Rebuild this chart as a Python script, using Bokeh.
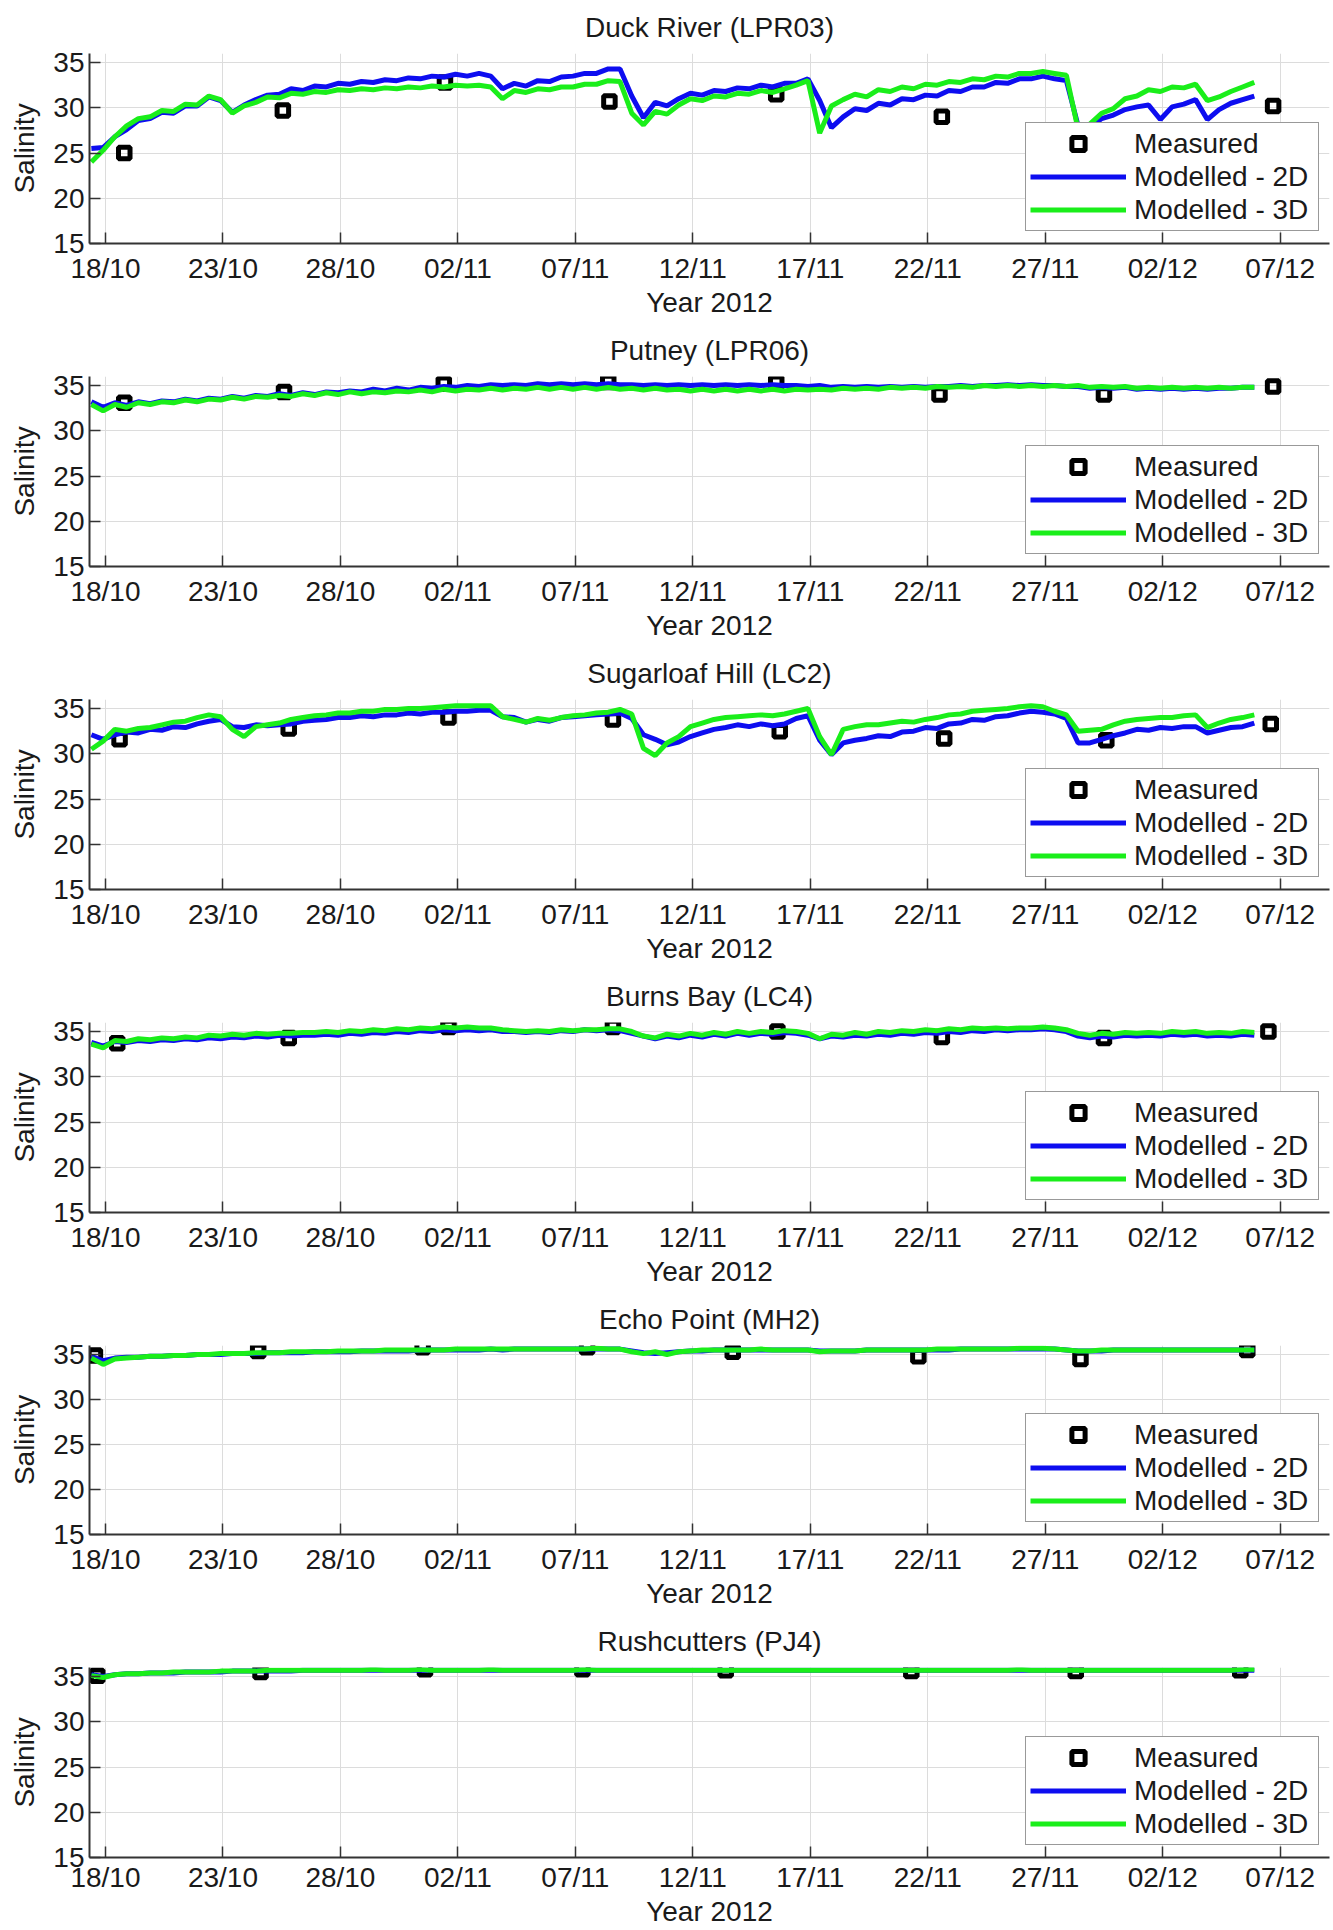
import numpy as np
from bokeh.plotting import figure
from bokeh.models import Range1d, FixedTicker, Legend, LegendItem
from bokeh.layouts import column
from bokeh.embed import file_html
from bokeh.resources import INLINE

# ---------------- data ----------------
# model output times: days after 18/10/2012 00:00, every 12 h
model_days = -0.6 + 0.5 * np.arange(100)

tick_days = [0, 5, 10, 15, 20, 25, 30, 35, 40, 45, 50]
tick_labels = ["18/10", "23/10", "28/10", "02/11", "07/11", "12/11",
               "17/11", "22/11", "27/11", "02/12", "07/12"]
y_ticks = [15, 20, 25, 30, 35]

titles = ["Duck River (LPR03)", "Putney (LPR06)", "Sugarloaf Hill (LC2)",
          "Burns Bay (LC4)", "Echo Point (MH2)", "Rushcutters (PJ4)"]
legend_labels = ["Measured", "Modelled - 2D", "Modelled - 3D"]

# Duck River (LPR03)
duck_meas_day = [0.8, 7.55, 14.45, 21.45, 28.55, 35.6, 49.7]
duck_meas = [25.0, 29.7, 32.8, 30.7, 31.5, 29.0, 30.2]
duck_2d = [25.5, 25.6, 26.8, 27.6, 28.6, 28.8, 29.5, 29.4, 30.2, 30.2,
           31.2, 30.8, 29.5, 30.3, 30.9, 31.4, 31.5, 32.1, 31.9, 32.4,
           32.3, 32.7, 32.6, 32.9, 32.8, 33.1, 33.0, 33.3, 33.2, 33.5,
           33.4, 33.7, 33.5, 33.8, 33.5, 32.1, 32.7, 32.4, 33.0, 32.9,
           33.4, 33.5, 33.8, 33.8, 34.3, 34.3, 31.3, 28.9, 30.6, 30.2,
           31.0, 31.6, 31.4, 31.9, 31.8, 32.2, 32.1, 32.5, 32.3, 32.7,
           32.7, 33.2, 30.8, 27.8, 29.0, 29.9, 29.7, 30.5, 30.3, 31.0,
           30.9, 31.4, 31.3, 31.9, 31.8, 32.3, 32.3, 32.8, 32.7, 33.2,
           33.2, 33.5, 33.2, 33.0, 28.0, 27.8, 28.8, 29.2, 29.8, 30.1,
           30.3, 28.7, 30.1, 30.4, 30.9, 28.7, 29.8, 30.5, 30.9, 31.3]
duck_3d = [24.0, 25.3, 26.8, 28.0, 28.8, 29.0, 29.7, 29.6, 30.4, 30.3,
           31.3, 30.9, 29.4, 30.2, 30.6, 31.2, 31.1, 31.6, 31.5, 31.8,
           31.7, 32.0, 31.9, 32.1, 32.0, 32.2, 32.1, 32.3, 32.2, 32.4,
           32.3, 32.5, 32.4, 32.5, 32.3, 31.0, 31.9, 31.7, 32.1, 32.0,
           32.3, 32.3, 32.6, 32.6, 33.0, 32.9, 29.4, 28.1, 29.6, 29.3,
           30.3, 31.0, 30.8, 31.3, 31.2, 31.6, 31.5, 31.9, 31.7, 32.1,
           32.5, 33.0, 27.2, 30.2, 30.9, 31.5, 31.2, 32.0, 31.8, 32.3,
           32.1, 32.6, 32.5, 32.9, 32.8, 33.2, 33.1, 33.5, 33.4, 33.8,
           33.8, 34.0, 33.8, 33.6, 27.6, 28.2, 29.4, 29.9, 31.0, 31.3,
           32.0, 31.8, 32.3, 32.2, 32.6, 30.8, 31.2, 31.8, 32.3, 32.8]

# Putney (LPR06)
putney_meas_day = [0.8, 7.6, 14.4, 21.4, 28.55, 35.5, 42.5, 49.7]
putney_meas = [33.1, 34.3, 35.2, 35.4, 35.3, 34.0, 34.0, 34.9]
putney_2d = [33.2, 32.6, 33.1, 32.8, 33.2, 33.0, 33.3, 33.2, 33.5, 33.3,
             33.6, 33.5, 33.8, 33.6, 33.9, 33.8, 34.1, 33.9, 34.2, 34.0,
             34.3, 34.2, 34.4, 34.3, 34.6, 34.4, 34.7, 34.5, 34.8, 34.7,
             34.9, 34.8, 35.0, 34.9, 35.1, 35.0, 35.1, 35.0, 35.2, 35.1,
             35.2, 35.1, 35.2, 35.1, 35.2, 35.1, 35.1, 35.0, 35.1, 35.0,
             35.1, 35.0, 35.1, 35.0, 35.1, 35.0, 35.1, 35.0, 35.1, 35.0,
             35.0, 34.9, 35.0, 34.8, 34.9, 34.8, 34.9, 34.8, 34.9, 34.8,
             34.9, 34.8, 34.9, 34.9, 35.0, 34.9, 35.0, 35.0, 35.1, 35.0,
             35.1, 35.0, 35.0, 34.9, 34.9, 34.7, 34.8, 34.7, 34.8, 34.6,
             34.7, 34.6, 34.7, 34.6, 34.7, 34.6, 34.7, 34.7, 34.8, 34.8]
putney_3d = [32.9, 32.2, 32.9, 32.6, 33.1, 32.9, 33.2, 33.1, 33.4, 33.2,
             33.5, 33.4, 33.7, 33.5, 33.8, 33.7, 33.9, 33.8, 34.1, 33.9,
             34.2, 34.0, 34.3, 34.1, 34.3, 34.2, 34.4, 34.3, 34.5, 34.3,
             34.6, 34.4, 34.6, 34.5, 34.7, 34.5, 34.7, 34.6, 34.8, 34.6,
             34.8, 34.6, 34.8, 34.6, 34.8, 34.6, 34.7, 34.5, 34.7, 34.5,
             34.6, 34.4, 34.6, 34.4, 34.6, 34.4, 34.6, 34.4, 34.6, 34.4,
             34.6, 34.5, 34.6, 34.5, 34.7, 34.6, 34.7, 34.6, 34.8, 34.7,
             34.8, 34.7, 34.9, 34.8, 34.9, 34.8, 35.0, 34.9, 35.0, 34.9,
             35.0, 34.9, 35.0, 34.9, 35.0, 34.8, 34.9, 34.8, 34.9, 34.7,
             34.8, 34.7, 34.8, 34.7, 34.8, 34.7, 34.8, 34.7, 34.8, 34.8]

# Sugarloaf Hill (LC2)
sugar_meas_day = [0.6, 7.8, 14.6, 21.6, 28.7, 35.7, 42.6, 49.6]
sugar_meas = [31.6, 32.8, 34.0, 33.8, 32.5, 31.7, 31.5, 33.3]
sugar_2d = [32.1, 31.6, 32.1, 32.4, 32.3, 32.7, 32.6, 33.0, 32.9, 33.3,
            33.6, 33.8, 33.0, 32.9, 33.2, 33.1, 33.2, 33.3, 33.6, 33.7,
            33.8, 34.0, 34.0, 34.2, 34.1, 34.3, 34.3, 34.5, 34.4, 34.6,
            34.6, 34.7, 34.7, 34.8, 34.8, 34.1, 34.0, 33.5, 33.8, 33.6,
            34.0, 34.1, 34.2, 34.3, 34.4, 34.5, 33.9, 32.1, 31.6, 31.0,
            31.3, 31.9, 32.3, 32.7, 32.9, 33.2, 33.0, 33.3, 33.1, 33.3,
            33.9, 34.2, 31.5, 29.9, 31.2, 31.5, 31.7, 32.0, 31.9, 32.4,
            32.5, 32.9, 32.8, 33.3, 33.4, 33.8, 33.7, 34.1, 34.2, 34.5,
            34.7, 34.6, 34.4, 33.9, 31.2, 31.2, 31.6, 32.0, 32.3, 32.7,
            32.6, 32.9, 32.8, 33.0, 33.0, 32.3, 32.6, 32.9, 33.0, 33.4]
sugar_3d = [30.5, 31.4, 32.7, 32.5, 32.8, 32.9, 33.2, 33.5, 33.6, 34.0,
            34.3, 34.1, 32.7, 31.9, 33.0, 33.2, 33.4, 33.8, 34.0, 34.2,
            34.3, 34.5, 34.5, 34.7, 34.7, 34.9, 34.9, 35.0, 35.0, 35.1,
            35.2, 35.3, 35.3, 35.3, 35.3, 34.1, 33.8, 33.5, 33.9, 33.7,
            34.0, 34.2, 34.3, 34.5, 34.6, 34.9, 34.4, 30.6, 29.8, 31.2,
            31.9, 33.0, 33.4, 33.8, 34.0, 34.1, 34.2, 34.3, 34.2, 34.4,
            34.7, 35.0, 31.9, 29.9, 32.7, 33.0, 33.2, 33.2, 33.4, 33.6,
            33.5, 33.8, 34.0, 34.3, 34.4, 34.7, 34.8, 34.9, 35.0, 35.2,
            35.3, 35.2, 34.7, 34.3, 32.5, 32.6, 32.7, 33.2, 33.6, 33.8,
            33.9, 34.0, 34.0, 34.2, 34.3, 32.9, 33.4, 33.8, 34.0, 34.3]

# Burns Bay (LC4)
burns_meas_day = [0.5, 7.8, 14.6, 21.6, 28.6, 35.6, 42.5, 49.5]
burns_meas = [33.7, 34.3, 35.5, 35.5, 35.0, 34.4, 34.3, 35.0]
burns_2d = [33.8, 33.4, 33.9, 33.8, 34.0, 33.9, 34.1, 34.0, 34.2, 34.1,
            34.3, 34.2, 34.4, 34.3, 34.5, 34.4, 34.6, 34.5, 34.6, 34.6,
            34.7, 34.6, 34.8, 34.7, 34.9, 34.8, 35.0, 34.9, 35.1, 35.0,
            35.2, 35.1, 35.2, 35.1, 35.2, 35.0, 35.0, 34.9, 35.0, 34.9,
            35.1, 35.0, 35.2, 35.1, 35.2, 35.1, 34.8, 34.5, 34.2, 34.5,
            34.3, 34.6, 34.4, 34.7, 34.5, 34.8, 34.6, 34.8, 34.7, 34.9,
            34.8, 34.6, 34.2, 34.5, 34.4, 34.6, 34.5, 34.7, 34.6, 34.8,
            34.7, 34.9, 34.8, 35.0, 34.9, 35.1, 35.0, 35.2, 35.1, 35.2,
            35.2, 35.3, 35.2, 35.0, 34.5, 34.3, 34.5, 34.4, 34.6, 34.5,
            34.6, 34.5, 34.7, 34.6, 34.7, 34.5, 34.6, 34.5, 34.7, 34.6]
burns_3d = [33.6, 33.2, 34.0, 33.9, 34.2, 34.1, 34.3, 34.2, 34.4, 34.3,
            34.6, 34.5, 34.7, 34.6, 34.8, 34.7, 34.8, 34.8, 34.9, 34.9,
            35.0, 34.9, 35.1, 35.0, 35.2, 35.1, 35.3, 35.2, 35.4, 35.3,
            35.5, 35.4, 35.5, 35.4, 35.4, 35.2, 35.1, 35.0, 35.1, 35.0,
            35.2, 35.1, 35.2, 35.2, 35.3, 35.3, 35.0, 34.5, 34.3, 34.7,
            34.5, 34.8, 34.6, 34.9, 34.7, 35.0, 34.8, 35.0, 34.9, 35.1,
            35.0, 34.8, 34.2, 34.7, 34.6, 34.9, 34.7, 35.0, 34.9, 35.1,
            35.0, 35.2, 35.1, 35.3, 35.2, 35.4, 35.3, 35.4, 35.3, 35.4,
            35.4, 35.5, 35.4, 35.2, 34.8, 34.6, 34.8, 34.7, 34.9, 34.8,
            34.9, 34.8, 35.0, 34.9, 35.0, 34.8, 34.9, 34.8, 35.0, 34.9]

# Echo Point (MH2)
echo_meas_day = [-0.45, 6.5, 13.5, 20.5, 26.7, 34.6, 41.5, 48.6]
echo_meas = [34.9, 35.4, 35.8, 35.8, 35.3, 34.8, 34.5, 35.5]
echo_2d = [34.8, 34.3, 34.6, 34.7, 34.7, 34.8, 34.8, 34.9, 34.9, 35.0,
           35.0, 35.0, 35.1, 35.1, 35.1, 35.2, 35.2, 35.2, 35.2, 35.3,
           35.3, 35.3, 35.3, 35.4, 35.4, 35.4, 35.4, 35.4, 35.5, 35.5,
           35.5, 35.5, 35.5, 35.5, 35.6, 35.5, 35.6, 35.6, 35.6, 35.6,
           35.6, 35.6, 35.6, 35.6, 35.6, 35.6, 35.4, 35.2, 35.1, 35.2,
           35.3, 35.4, 35.4, 35.5, 35.5, 35.5, 35.5, 35.5, 35.5, 35.5,
           35.5, 35.5, 35.4, 35.4, 35.4, 35.4, 35.5, 35.5, 35.5, 35.5,
           35.5, 35.5, 35.5, 35.5, 35.6, 35.6, 35.6, 35.6, 35.6, 35.6,
           35.6, 35.6, 35.6, 35.5, 35.4, 35.4, 35.4, 35.5, 35.5, 35.5,
           35.5, 35.5, 35.5, 35.5, 35.5, 35.5, 35.5, 35.5, 35.5, 35.5]
echo_3d = [34.6, 33.9, 34.5, 34.6, 34.7, 34.8, 34.8, 34.9, 34.9, 35.0,
           35.0, 35.1, 35.1, 35.1, 35.2, 35.2, 35.2, 35.3, 35.3, 35.3,
           35.3, 35.4, 35.4, 35.4, 35.4, 35.5, 35.5, 35.5, 35.5, 35.5,
           35.5, 35.6, 35.6, 35.6, 35.6, 35.6, 35.6, 35.6, 35.6, 35.6,
           35.6, 35.6, 35.6, 35.7, 35.6, 35.6, 35.3, 35.1, 35.3, 35.0,
           35.3, 35.4, 35.5, 35.5, 35.5, 35.5, 35.5, 35.6, 35.5, 35.5,
           35.5, 35.5, 35.3, 35.4, 35.4, 35.4, 35.5, 35.5, 35.5, 35.5,
           35.5, 35.5, 35.6, 35.6, 35.6, 35.6, 35.6, 35.6, 35.6, 35.7,
           35.7, 35.7, 35.6, 35.5, 35.4, 35.4, 35.5, 35.5, 35.5, 35.5,
           35.5, 35.5, 35.5, 35.5, 35.5, 35.5, 35.5, 35.5, 35.5, 35.5]

# Rushcutters (PJ4)
rush_meas_day = [-0.35, 6.6, 13.6, 20.3, 26.4, 34.3, 41.3, 48.3]
rush_meas = [35.1, 35.5, 35.8, 35.8, 35.7, 35.6, 35.6, 35.7]
rush_2d = [35.2, 35.0, 35.2, 35.3, 35.3, 35.4, 35.4, 35.4, 35.5, 35.5,
           35.5, 35.5, 35.6, 35.6, 35.6, 35.6, 35.6, 35.6, 35.7, 35.7,
           35.7, 35.7, 35.7, 35.7, 35.7, 35.7, 35.7, 35.7, 35.7, 35.7,
           35.7, 35.7, 35.7, 35.7, 35.7, 35.7, 35.7, 35.7, 35.7, 35.7,
           35.7, 35.7, 35.7, 35.7, 35.7, 35.7, 35.7, 35.7, 35.7, 35.7,
           35.7, 35.7, 35.7, 35.7, 35.7, 35.7, 35.7, 35.7, 35.7, 35.7,
           35.7, 35.7, 35.7, 35.7, 35.7, 35.7, 35.7, 35.7, 35.7, 35.7,
           35.7, 35.7, 35.7, 35.7, 35.7, 35.7, 35.7, 35.7, 35.7, 35.7,
           35.7, 35.7, 35.7, 35.7, 35.7, 35.7, 35.7, 35.7, 35.7, 35.7,
           35.7, 35.7, 35.7, 35.7, 35.7, 35.7, 35.7, 35.7, 35.7, 35.7]
rush_3d = [35.1, 34.9, 35.2, 35.3, 35.3, 35.4, 35.4, 35.5, 35.5, 35.5,
           35.5, 35.6, 35.6, 35.6, 35.6, 35.7, 35.7, 35.7, 35.7, 35.7,
           35.7, 35.7, 35.7, 35.7, 35.8, 35.7, 35.7, 35.7, 35.8, 35.7,
           35.7, 35.7, 35.7, 35.7, 35.8, 35.7, 35.7, 35.7, 35.7, 35.7,
           35.7, 35.7, 35.8, 35.7, 35.7, 35.7, 35.7, 35.7, 35.7, 35.7,
           35.7, 35.7, 35.7, 35.7, 35.7, 35.7, 35.7, 35.7, 35.7, 35.7,
           35.7, 35.7, 35.7, 35.7, 35.7, 35.7, 35.7, 35.7, 35.7, 35.7,
           35.7, 35.7, 35.7, 35.7, 35.7, 35.7, 35.7, 35.7, 35.7, 35.8,
           35.7, 35.7, 35.7, 35.7, 35.7, 35.7, 35.7, 35.7, 35.7, 35.7,
           35.7, 35.7, 35.7, 35.7, 35.7, 35.7, 35.7, 35.7, 35.8, 35.8]

meas_days = [duck_meas_day, putney_meas_day, sugar_meas_day,
             burns_meas_day, echo_meas_day, rush_meas_day]
meas_vals = [duck_meas, putney_meas, sugar_meas, burns_meas, echo_meas, rush_meas]
model_2d = [duck_2d, putney_2d, sugar_2d, burns_2d, echo_2d, rush_2d]
model_3d = [duck_3d, putney_3d, sugar_3d, burns_3d, echo_3d, rush_3d]

# ---------------- style ----------------
FONT = "Liberation Sans"
FS = "28px"
BLUE = "#0d0df0"
GREEN = "#1aee1a"
AXIS = "#333333"
GRID = "#dcdcdc"
TXT = "#1a1a1a"


def make_panel(i, height, border_bottom, tick_standoff, label_standoff):
    p = figure(width=1333, height=height,
               x_range=Range1d(-0.68, 52.1), y_range=Range1d(15, 36),
               output_backend="svg", toolbar_location=None,
               min_border_left=89, min_border_right=4,
               min_border_top=53, min_border_bottom=border_bottom,
               title=titles[i])
    p.title.align = "center"
    p.title.vertical_align = "top"
    p.title.text_font = FONT
    p.title.text_font_size = FS
    p.title.text_font_style = "normal"
    p.title.text_color = TXT
    p.title.standoff = 17
    p.outline_line_color = None
    p.background_fill_color = "white"
    p.border_fill_color = "white"

    p.xaxis.ticker = FixedTicker(ticks=tick_days)
    p.xaxis.major_label_overrides = {d: s for d, s in zip(tick_days, tick_labels)}
    p.yaxis.ticker = FixedTicker(ticks=y_ticks)
    p.xaxis.axis_label = "Year 2012"
    p.yaxis.axis_label = "Salinity"
    for ax in (p.xaxis, p.yaxis):
        ax.axis_line_color = AXIS
        ax.axis_line_width = 2
        ax.major_tick_line_color = AXIS
        ax.major_tick_line_width = 1.5
        ax.major_tick_in = 11
        ax.major_tick_out = 0
        ax.minor_tick_line_color = None
        ax.major_label_text_font = FONT
        ax.major_label_text_font_size = FS
        ax.major_label_text_color = TXT
        ax.axis_label_text_font = FONT
        ax.axis_label_text_font_size = FS
        ax.axis_label_text_font_style = "normal"
        ax.axis_label_text_color = TXT
    p.xaxis.major_label_standoff = tick_standoff
    p.xaxis.axis_label_standoff = label_standoff
    p.yaxis.major_label_standoff = 5
    p.yaxis.axis_label_standoff = 10

    p.grid.grid_line_color = GRID
    p.grid.grid_line_width = 1

    r_m = p.scatter(meas_days[i], meas_vals[i], marker="square", size=11.5,
                    fill_color=None, line_color="black", line_width=5)
    r_2 = p.line(model_days, model_2d[i], color=BLUE, line_width=5)
    r_3 = p.line(model_days, model_3d[i], color=GREEN, line_width=5)

    legend = Legend(items=[LegendItem(label=legend_labels[0], renderers=[r_m]),
                           LegendItem(label=legend_labels[1], renderers=[r_2]),
                           LegendItem(label=legend_labels[2], renderers=[r_3])],
                    location=(936, 12))
    legend.label_text_font = FONT
    legend.label_text_font_size = FS
    legend.label_text_color = TXT
    legend.glyph_width = 96
    legend.glyph_height = 33
    legend.label_height = 33
    legend.label_width = 180
    legend.label_standoff = 8
    legend.spacing = 0
    legend.padding = 4
    legend.margin = 0
    legend.border_line_color = AXIS
    legend.border_line_width = 1.5
    legend.background_fill_color = "white"
    legend.background_fill_alpha = 1
    p.add_layout(legend)
    return p


panel_heights = [323, 323, 323, 323, 322, 316]
panels = []
for i in range(6):
    if i < 5:
        panels.append(make_panel(i, panel_heights[i], 80, 9, 0))
    else:
        panels.append(make_panel(i, panel_heights[i], 73, 4, 0))

layout = column(*panels, spacing=0)
open("out.html", "w").write(file_html(layout, INLINE))
